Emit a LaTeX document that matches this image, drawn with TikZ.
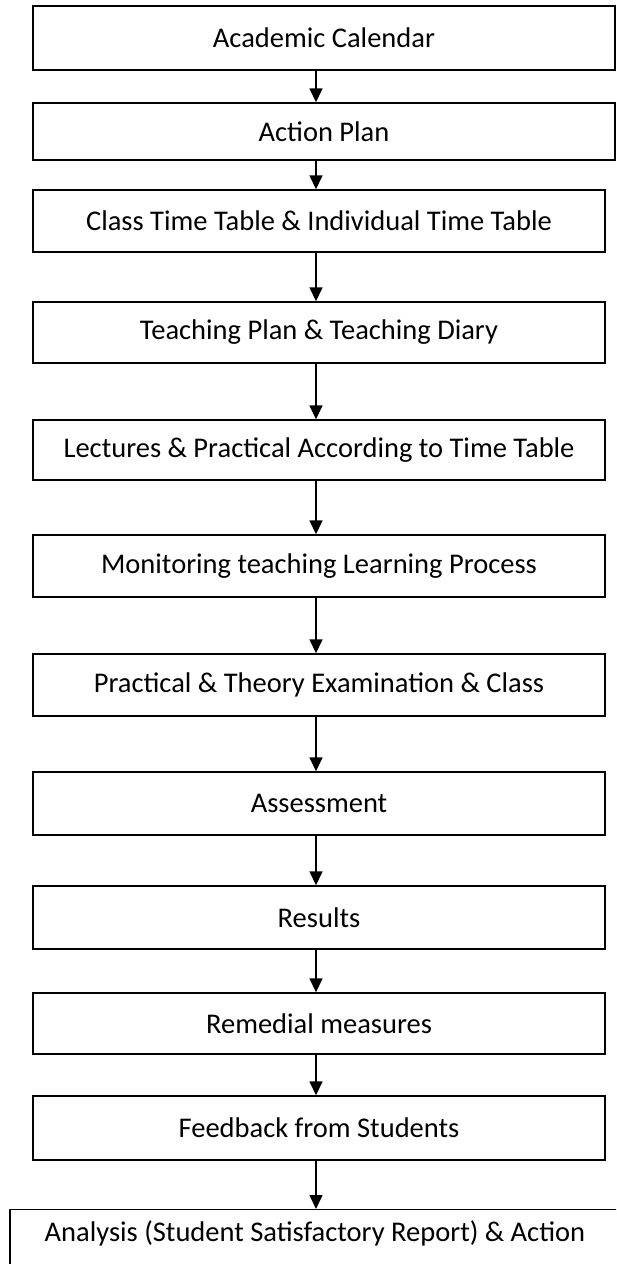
\documentclass[tikz,border=0pt]{standalone}
\usepackage{fontspec}
\setmainfont{Carlito}
\usetikzlibrary{arrows.meta}
\begin{document}
\begin{tikzpicture}[x=1pt,y=1pt,
  flowbox/.style={draw=black, line width=1.4pt, inner sep=0pt, align=center,
    font=\fontsize{28.5}{32}\selectfont},
  arr/.style={line width=1.5pt, -{Triangle[width=13pt,length=14pt]}}]
\useasboundingbox (0,0) rectangle (616,-1264);
\clip (0,0) rectangle (616,-1264);
\fill[white] (0,0) rectangle (616,-1264);
\coordinate (ax) at (316,0);
\node[flowbox, minimum width=582pt, minimum height=64pt] (b1) at (324,-38) {Academic Calendar};
\node[flowbox, minimum width=582pt, minimum height=57pt] (b2) at (324,-131.5) {Action Plan};
\node[flowbox, minimum width=572pt, minimum height=62pt] (b3) at (319,-221) {Class Time Table \& Individual Time Table};
\node[flowbox, minimum width=572pt, minimum height=61pt] (b4) at (319,-332.5) {Teaching Plan \& Teaching Diary};
\node[flowbox, minimum width=572pt, minimum height=60pt] (b5) at (319,-450) {Lectures \& Practical According to Time Table};
\node[flowbox, minimum width=572pt, minimum height=62pt] (b6) at (319,-566) {Monitoring teaching Learning Process};
\node[flowbox, minimum width=572pt, minimum height=62pt] (b7) at (319,-685) {Practical \& Theory Examination \& Class};
\node[flowbox, minimum width=572pt, minimum height=63pt] (b8) at (319,-803.5) {Assessment};
\node[flowbox, minimum width=572pt, minimum height=63pt] (b9) at (319,-917.5) {Results};
\node[flowbox, minimum width=572pt, minimum height=61pt] (b10) at (319,-1023.5) {Remedial measures};
\node[flowbox, minimum width=572pt, minimum height=64pt] (b11) at (319,-1128) {Feedback from Students};
\node[flowbox, minimum width=610pt, text height=32pt, text depth=34pt, anchor=north] (b12) at (315,-1209) {Analysis (Student Satisfactory Report) \& Action};
\foreach \a/\b in {b1/b2,b2/b3,b3/b4,b4/b5,b5/b6,b6/b7,b7/b8,b8/b9,b9/b10,b10/b11,b11/b12}
  \draw[arr] (\a.south -| ax) -- (\b.north -| ax);
\end{tikzpicture}
\end{document}
